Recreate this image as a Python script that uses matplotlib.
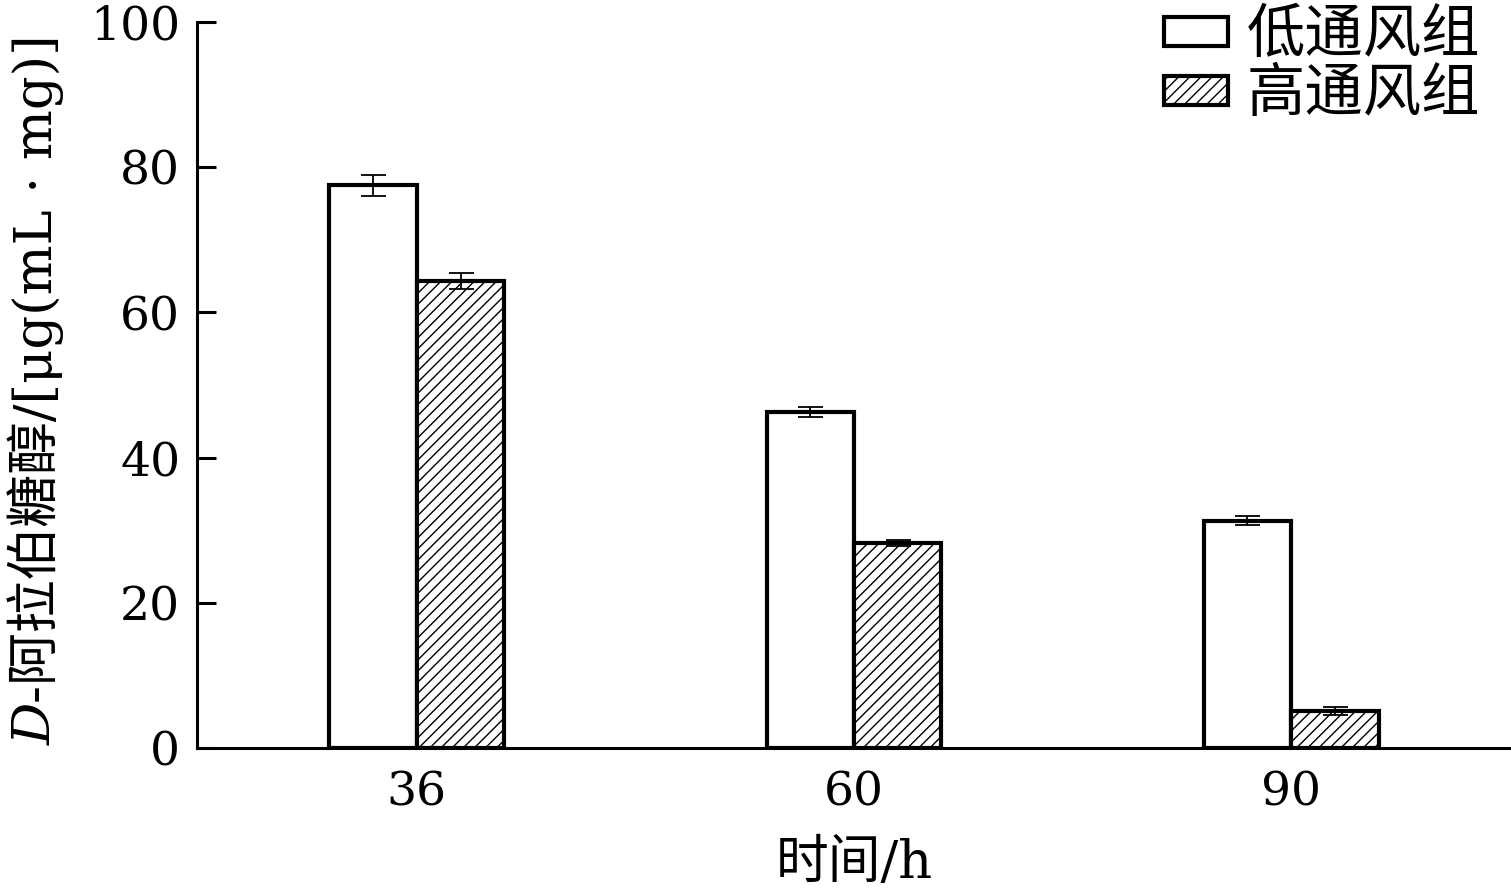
import numpy as np
import matplotlib
matplotlib.use('Agg')
import matplotlib.pyplot as plt

# data
times = ['36', '60', '90']
low_vent = [77.5, 46.3, 31.3]
low_err = [1.4, 0.7, 0.6]
high_vent = [64.3, 28.2, 5.1]
high_err = [1.1, 0.4, 0.6]
series_names = ['低通风组', '高通风组']

fams = ['DejaVu Serif', 'Noto Sans CJK SC']
plt.rcParams['font.family'] = fams
plt.rcParams['hatch.linewidth'] = 1.0

fig = plt.figure(figsize=(15.11, 8.88), dpi=100)
ax = fig.add_axes([0.1304, 0.1577, 0.8696, 0.8175])

x = np.arange(len(times))
w = 0.2
ax.bar(x - w/2, low_vent, w, color='white', edgecolor='black', linewidth=3,
       label=series_names[0], zorder=2)
ax.bar(x + w/2, high_vent, w, color='white', edgecolor='black', linewidth=3,
       hatch='///', label=series_names[1], zorder=2)
ax.errorbar(x - w/2, low_vent, yerr=low_err, fmt='none', ecolor='black',
            elinewidth=1.3, capsize=9, capthick=1.3, zorder=3)
ax.errorbar(x + w/2, high_vent, yerr=high_err, fmt='none', ecolor='black',
            elinewidth=1.3, capsize=9, capthick=1.3, zorder=3)

ax.set_xlim(-0.503, 2.503)
ax.set_ylim(0, 100)
ax.set_yticks(np.arange(0, 101, 20))
ax.set_xticks(x)
ax.set_xticklabels(times)
ax.tick_params(axis='y', direction='in', length=14, width=2.2, labelsize=34, pad=12)
ax.tick_params(axis='x', length=0, labelsize=34, pad=16)

for s in ['top', 'right']:
    ax.spines[s].set_visible(False)
for s in ['left', 'bottom']:
    ax.spines[s].set_linewidth(2.2)

ax.set_xlabel('时间/h', fontsize=38, labelpad=16)

# y label: italic D plus the rest, stacked along the vertical
d_txt = fig.text(36/1511, (888-745)/888, 'D', rotation=90, fontsize=38,
                 style='italic', family=fams, ha='center', va='bottom')
fig.canvas.draw()
bb = d_txt.get_window_extent().transformed(fig.transFigure.inverted())
fig.text(36/1511, bb.y1, '-阿拉伯糖醇/[μg(mL · mg)]', rotation=90, fontsize=38,
         family=fams, ha='center', va='bottom')

ax.legend(loc='upper right', bbox_to_anchor=(1.003, 1.067), frameon=False,
          fontsize=42, handlelength=1.1, handleheight=0.4, handletextpad=0.32,
          labelspacing=0.05, borderaxespad=0.2)

fig.savefig('out.png', dpi=100)
